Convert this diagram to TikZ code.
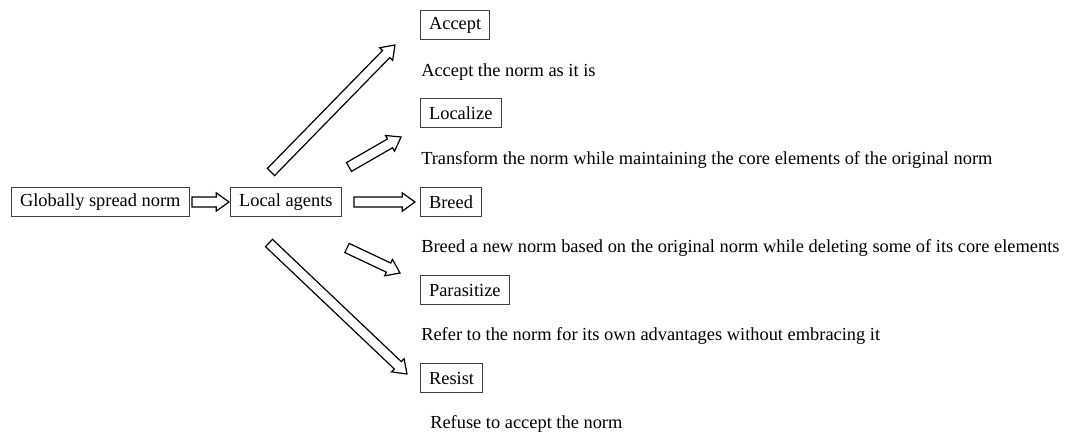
\documentclass[tikz,border=0pt]{standalone}
\usepackage{fontspec}
\setmainfont{Liberation Serif}
\usetikzlibrary{calc}
\newcommand\blockarrow[3]{%
  \coordinate (#3h) at ($(#2)!9.5pt!(#1)$);
  \draw[barrow] ($(#1)!3.8pt!90:(#2)$) -- ($(#3h)!3.8pt!90:(#2)$) -- ($(#3h)!6.8pt!90:(#2)$) -- (#2)
    -- ($(#3h)!6.8pt!-90:(#2)$) -- ($(#3h)!3.8pt!-90:(#2)$) -- ($(#1)!3.8pt!-90:(#2)$) -- cycle;}
\begin{document}
\begin{tikzpicture}[x=0.75pt,y=-0.75pt,
  box/.style={draw=black!75, line width=0.6pt, inner xsep=6.5pt, inner ysep=0pt, minimum height=22pt, anchor=north west, font=\fontsize{13.8}{15}\selectfont},
  desc/.style={anchor=base west, inner sep=0pt, font=\fontsize{13.8}{15}\selectfont},
  barrow/.style={draw=black, line width=0.9pt, fill=white, line join=miter}]
\useasboundingbox (0,0) rectangle (1066,435);
% boxes
\node[box] (gs) at (11,187) {Globally spread norm};
\node[box] (la) at (230,187) {Local agents};
\node[box] (acc) at (420,10) {Accept};
\node[box] (loc) at (420,98) {Localize};
\node[box] (bre) at (420,187) {Breed};
\node[box] (par) at (420,275) {Parasitize};
\node[box] (res) at (420,363) {Resist};
% descriptions
\node[desc] (dacc) at (421,76) {Accept the norm as it is};
\node[desc] (dloc) at (421,164) {Transform the norm while maintaining the core elements of the original norm};
\node[desc] (dbre) at (421,252) {Breed a new norm based on the original norm while deleting some of its core elements};
\node[desc] (dpar) at (421,340) {Refer to the norm for its own advantages without embracing it};
\node[desc] (dres) at (430,428) {Refuse to accept the norm};
% arrow end points
\coordinate (g1) at (192,202); \coordinate (g2) at (229,202);
\coordinate (b1) at (354,202); \coordinate (b2) at (415,202);
\coordinate (a1) at (271,172); \coordinate (a2) at (395,45);
\coordinate (l1) at (349,167); \coordinate (l2) at (401,137);
\coordinate (p1) at (347,248); \coordinate (p2) at (400,273);
\coordinate (r1) at (269,243); \coordinate (r2) at (407,374);
\blockarrow{g1}{g2}{g}
\blockarrow{b1}{b2}{b}
\blockarrow{a1}{a2}{a}
\blockarrow{l1}{l2}{l}
\blockarrow{p1}{p2}{p}
\blockarrow{r1}{r2}{r}
\end{tikzpicture}
\end{document}
